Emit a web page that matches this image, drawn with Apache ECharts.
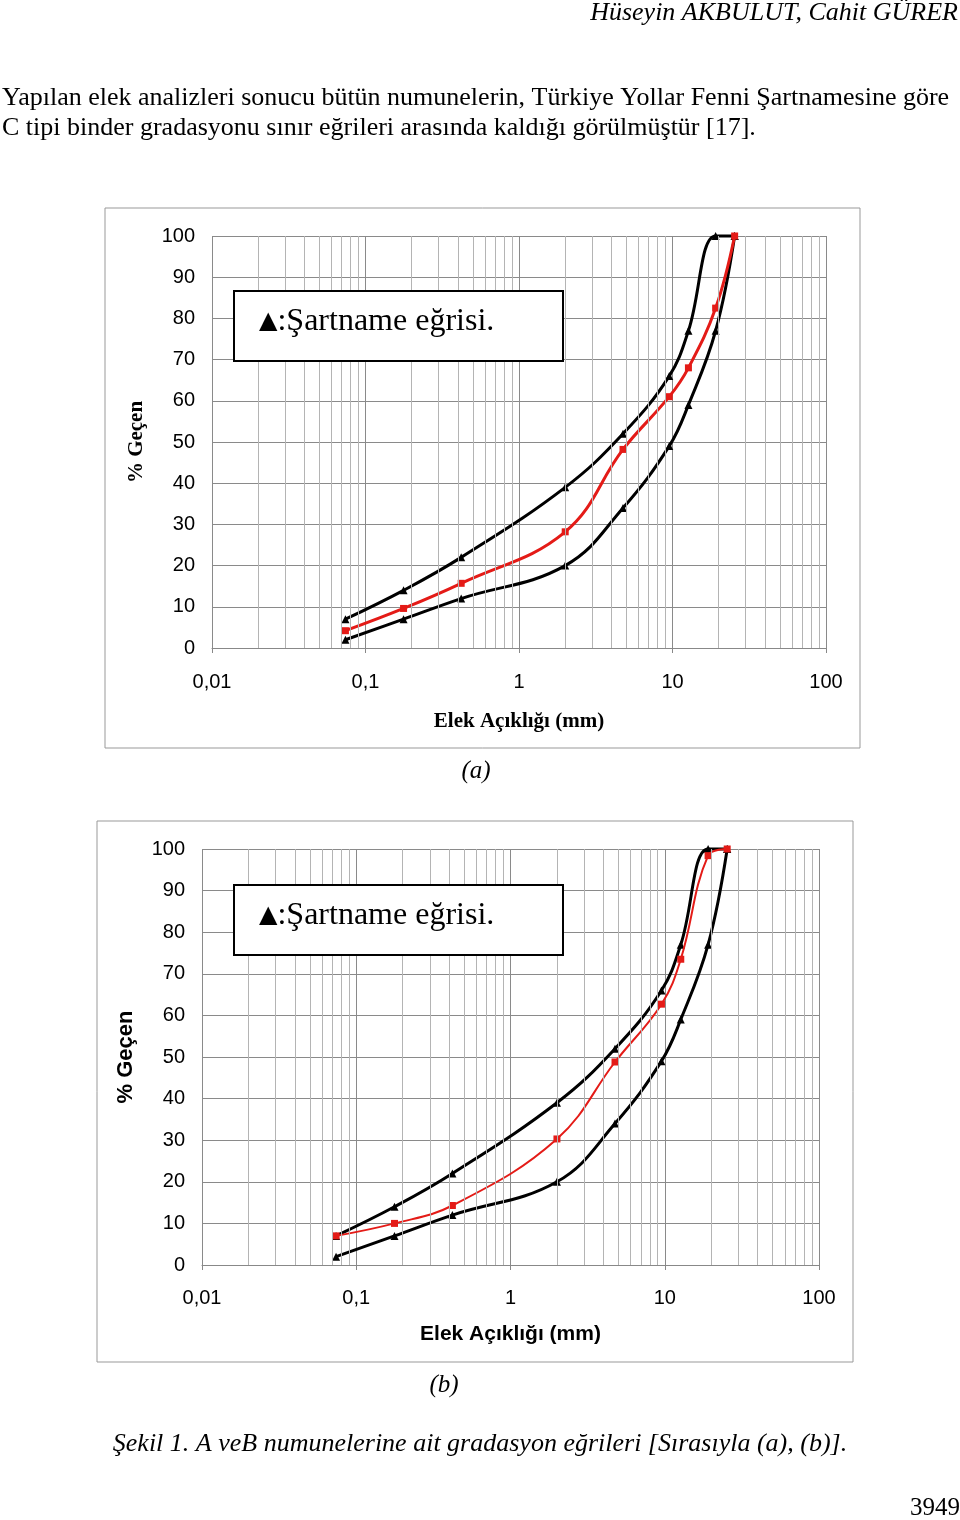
<!DOCTYPE html>
<html>
<head>
<meta charset="utf-8">
<script src="https://cdn.jsdelivr.net/npm/echarts@6.0.0/dist/echarts.min.js"></script>
<style>
  html, body { margin: 0; padding: 0; background: #fff; }
  #main { width: 960px; height: 1520px; }
</style>
</head>
<body>
<div id="main"></div>
<script>
// elek açıklıkları (mm)
const sieves = [0.074, 0.177, 0.42, 2.0, 4.76, 9.52, 12.7, 19.1, 25.4];
// şartname sınır eğrileri (C tipi binder)
const upperLimit = [7, 14, 22, 39, 52, 66, 77, 100, 100];
const lowerLimit = [2, 7, 12, 20, 34, 49, 59, 77, 100];
// numune A ve B
const sampleA = [4.2, 9.6, 15.7, 28.2, 48.2, 61, 68, 82.5, 100];
const sampleB = [7, 10, 14.3, 30.3, 48.8, 62.7, 73.5, 98.4, 100];
// eksen etiketleri
const xTickLabels = ['0,01', '0,1', '1', '10', '100'];
const decades = [0.01, 0.1, 1, 10];
const minorSteps = [2, 3, 4, 5, 6, 7, 8, 9];

const pairs = (ys) => sieves.map((x, i) => [x, ys[i]]);
const minorLines = [];
decades.forEach(d => minorSteps.forEach(m => minorLines.push({ xAxis: +(d * m).toPrecision(3) })));

const chart = echarts.init(document.getElementById('main'));

function xAxisFor(gi, serifName) {
  return {
    type: 'log', logBase: 10, min: 0.01, max: 100, gridIndex: gi,
    name: 'Elek Açıklığı (mm)', nameLocation: 'middle', nameGap: gi === 0 ? 63 : 59,
    nameTextStyle: {
      fontFamily: serifName ? 'Liberation Serif' : 'Liberation Sans',
      fontWeight: 'bold', fontSize: 21, color: '#000'
    },
    axisLine: { show: true, lineStyle: { color: '#888', width: 1 } },
    axisTick: { show: true, length: 5, lineStyle: { color: '#888' } },
    axisLabel: {
      margin: gi === 0 ? 24 : 23, fontFamily: 'Liberation Sans', fontSize: 20, color: '#000',
      formatter: v => xTickLabels[Math.round(Math.log10(v)) + 2]
    },
    splitLine: { show: true, lineStyle: { color: '#8a8a8a', width: 1 } }
  };
}

function yAxisFor(gi, serifName) {
  return {
    type: 'value', min: 0, max: 100, interval: 10, gridIndex: gi,
    name: '% Geçen', nameLocation: 'middle', nameGap: 65,
    nameTextStyle: {
      fontFamily: serifName ? 'Liberation Serif' : 'Liberation Sans',
      fontWeight: 'bold', fontSize: serifName ? 21 : 22, color: '#000'
    },
    axisLine: { show: false },
    axisTick: { show: false },
    axisLabel: { margin: 17, fontFamily: 'Liberation Sans', fontSize: 20, color: '#000' },
    splitLine: { show: true, lineStyle: { color: '#8a8a8a', width: 1 } }
  };
}

function seriesFor(gi, sample, redWidth) {
  const common = { xAxisIndex: gi, yAxisIndex: gi, type: 'line', smooth: 0.4, clip: false };
  return [
    { ...common, name: 'grid' + gi, data: [], silent: true, z: 1,
      markLine: { silent: true, symbol: 'none', label: { show: false },
        lineStyle: { color: '#b4b4b4', width: 1, type: 'solid' }, data: minorLines } },
    { ...common, name: 'sample' + gi, data: pairs(sample), z: 4,
      lineStyle: { color: '#e41b17', width: redWidth },
      symbol: 'rect', symbolSize: 7, itemStyle: { color: '#e41b17' } },
    { ...common, name: 'upper' + gi, data: pairs(upperLimit), z: 3,
      lineStyle: { color: '#000', width: 3 },
      symbol: 'triangle', symbolSize: 8, itemStyle: { color: '#000' } },
    { ...common, name: 'lower' + gi, data: pairs(lowerLimit), z: 3,
      lineStyle: { color: '#000', width: 3 },
      symbol: 'triangle', symbolSize: 8, itemStyle: { color: '#000' } }
  ];
}

function legendBox(x, y) {
  return [
    { type: 'rect', shape: { x: x, y: y, width: 329, height: 70 }, z: 10,
      style: { fill: '#fff', stroke: '#000', lineWidth: 2 } },
    { type: 'text', x: x + 25, y: y + 31, z: 11,
      style: { text: '{t|▲}{s|:Şartname eğrisi.}', verticalAlign: 'middle',
        rich: {
          t: { fontFamily: 'DejaVu Sans', fontSize: 24, fill: '#000' },
          s: { fontFamily: 'Liberation Serif', fontSize: 32, fill: '#000' }
        } } }
  ];
}

function pageText(x, y, text, size, align, italic) {
  return { type: 'text', x: x, y: y, z: 20,
    style: { text: text, fontFamily: 'Liberation Serif', fontSize: size,
      fontStyle: italic ? 'italic' : 'normal', fill: '#000',
      align: align, verticalAlign: 'middle' } };
}

chart.setOption({
  animation: false,
  grid: [
    { left: 212, top: 236, width: 614, height: 412 },
    { left: 202, top: 849, width: 617, height: 416 }
  ],
  xAxis: [xAxisFor(0, true), xAxisFor(1, false)],
  yAxis: [yAxisFor(0, true), yAxisFor(1, false)],
  series: [...seriesFor(0, sampleA, 3), ...seriesFor(1, sampleB, 2)],
  graphic: [
    { type: 'rect', shape: { x: 105, y: 208, width: 755, height: 540 }, z: -1,
      style: { fill: 'none', stroke: '#999', lineWidth: 1 } },
    { type: 'rect', shape: { x: 97, y: 821, width: 756, height: 541 }, z: -1,
      style: { fill: 'none', stroke: '#999', lineWidth: 1 } },
    ...legendBox(234, 291),
    ...legendBox(234, 885),
    pageText(958, 13, 'Hüseyin AKBULUT, Cahit GÜRER', 26, 'right', true),
    pageText(2, 98, 'Yapılan elek analizleri sonucu bütün numunelerin, Türkiye Yollar Fenni Şartnamesine göre', 26, 'left', false),
    pageText(2, 128, 'C tipi binder gradasyonu sınır eğrileri arasında kaldığı görülmüştür [17].', 26, 'left', false),
    pageText(476, 771, '(a)', 25, 'center', true),
    pageText(444, 1385, '(b)', 25, 'center', true),
    pageText(480, 1444, 'Şekil 1. A veB numunelerine ait gradasyon eğrileri [Sırasıyla (a), (b)].', 26, 'center', true),
    pageText(960, 1508, '3949', 25, 'right', false)
  ]
});
</script>
</body>
</html>
